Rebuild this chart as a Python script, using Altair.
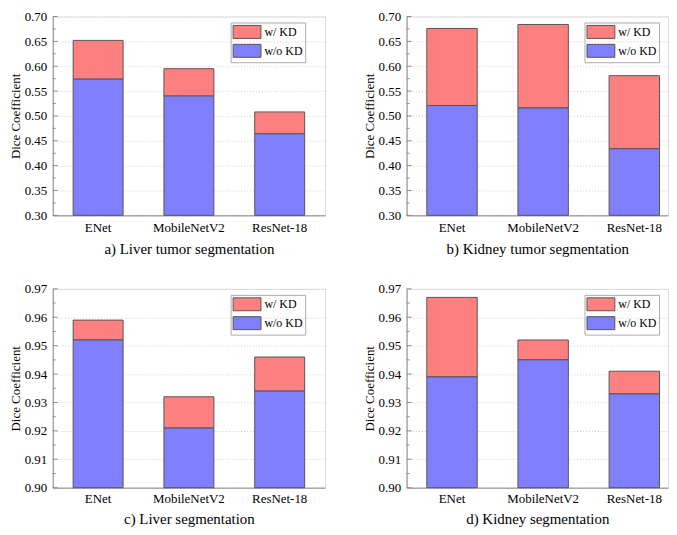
import altair as alt
import pandas as pd

models = ["ENet", "MobileNetV2", "ResNet-18"]
series = ["w/ KD", "w/o KD"]
colors = ["#FF8080", "#8080FF"]

liver_tumor_wo = [0.574, 0.540, 0.464]
liver_tumor_w = [0.652, 0.595, 0.508]
kidney_tumor_wo = [0.521, 0.516, 0.434]
kidney_tumor_w = [0.676, 0.684, 0.581]
liver_wo = [0.952, 0.921, 0.934]
liver_w = [0.959, 0.932, 0.946]
kidney_wo = [0.939, 0.945, 0.933]
kidney_w = [0.967, 0.952, 0.941]

captions = ["a) Liver tumor segmentation", "b) Kidney tumor segmentation",
            "c) Liver segmentation", "d) Kidney segmentation"]

ticks_top = [0.30, 0.35, 0.40, 0.45, 0.50, 0.55, 0.60, 0.65, 0.70]
minor_top = [0.325, 0.375, 0.425, 0.475, 0.525, 0.575, 0.625, 0.675]
ticks_bot = [0.90, 0.91, 0.92, 0.93, 0.94, 0.95, 0.96, 0.97]
minor_bot = [0.905, 0.915, 0.925, 0.935, 0.945, 0.955, 0.965]

FONT = "Liberation Serif"
H = 200
AX = "#8c8c8c"


def panel(wo, w, caption, ticks, minor, width, xscale, lpad, tpad):
    lo, hi = ticks[0], ticks[-1]
    rows = []
    for m, a, b in zip(models, wo, w):
        rows.append({"model": m, "series": series[0], "low": a, "high": b})
    for m, a in zip(models, wo):
        rows.append({"model": m, "series": series[1], "low": lo, "high": a})
    df = pd.DataFrame(rows)
    yscale = alt.Scale(domain=[lo, hi], nice=False, zero=False)
    yaxis = alt.Axis(title="Dice Coefficient", values=ticks, format=".2f")
    bars = alt.Chart(df).mark_bar(stroke="#555555", strokeWidth=1, opacity=1).encode(
        x=alt.X("model:N", sort=models, scale=xscale,
                axis=alt.Axis(title=caption, labelPadding=lpad, titlePadding=tpad)),
        y=alt.Y("high:Q", scale=yscale, axis=yaxis),
        y2="low:Q",
        color=alt.Color("series:N", scale=alt.Scale(domain=series, range=colors),
                        legend=alt.Legend(title=None, orient="none", legendX=179, legendY=6)),
        order=alt.Order("series:N", sort="ascending"),
    )
    tdf = pd.DataFrame({"v": ticks + minor, "kind": ["major"] * len(ticks) + ["minor"] * len(minor)})
    major = alt.Chart(tdf).transform_filter(alt.datum.kind == "major").mark_rule(
        color=AX, strokeWidth=1).encode(
        y=alt.Y("v:Q", scale=yscale, axis=yaxis), x=alt.value(0), x2=alt.value(5))
    minr = alt.Chart(tdf).transform_filter(alt.datum.kind == "minor").mark_rule(
        color=AX, strokeWidth=1).encode(
        y=alt.Y("v:Q", scale=yscale, axis=yaxis), x=alt.value(0), x2=alt.value(3))
    return alt.layer(bars, major, minr).properties(width=width, height=H)


left_scale = alt.Scale(paddingInner=0.45, paddingOuter=0.225)
right_scale = alt.Scale(paddingInner=0.447, paddingOuter=0.1575, align=0.704)

pa = panel(liver_tumor_wo, liver_tumor_w, captions[0], ticks_top, minor_top, 274, left_scale, 6, 7)
pb = panel(kidney_tumor_wo, kidney_tumor_w, captions[1], ticks_top, minor_top, 263, right_scale, 6, 7)
pc = panel(liver_wo, liver_w, captions[2], ticks_bot, minor_bot, 274, left_scale, 5, 6)
pd_ = panel(kidney_wo, kidney_w, captions[3], ticks_bot, minor_bot, 263, right_scale, 5, 6)

row1 = alt.hconcat(pa, pb, spacing=36).resolve_scale(color="independent", y="independent", x="independent").resolve_legend(color="independent")
row2 = alt.hconcat(pc, pd_, spacing=36).resolve_scale(color="independent", y="independent", x="independent").resolve_legend(color="independent")

chart = (
    alt.vconcat(row1, row2, spacing=25)
    .resolve_scale(color="independent", y="independent", x="independent")
    .resolve_legend(color="independent")
    .properties(padding={"left": 0, "top": 0, "right": 0, "bottom": 0})
    .configure_view(stroke=AX, strokeWidth=1)
    .configure(background="white")
    .configure_axis(labelFont=FONT, titleFont=FONT, labelFontSize=13,
                    titleFontWeight="normal", labelColor="black", titleColor="black",
                    domainColor=AX, ticks=False)
    .configure_axisY(titleFontSize=13, labelPadding=6, titlePadding=2,
                     grid=True, gridColor="#d0d0d0", gridDash=[1, 2], gridWidth=1)
    .configure_axisX(titleFontSize=15, labelAngle=0, grid=False)
    .configure_legend(strokeColor="#aaaaaa", padding=2,
                      symbolType="M-1,-0.93L3,-0.93L3,0.93L-1,0.93Z",
                      symbolSize=196, symbolStrokeColor="#555555",
                      symbolStrokeWidth=1, symbolOpacity=1,
                      labelFont=FONT, labelFontSize=12, labelColor="black",
                      rowPadding=0, labelOffset=17)
)

chart.save("out.html", embed_options={"renderer": "svg", "actions": False})
